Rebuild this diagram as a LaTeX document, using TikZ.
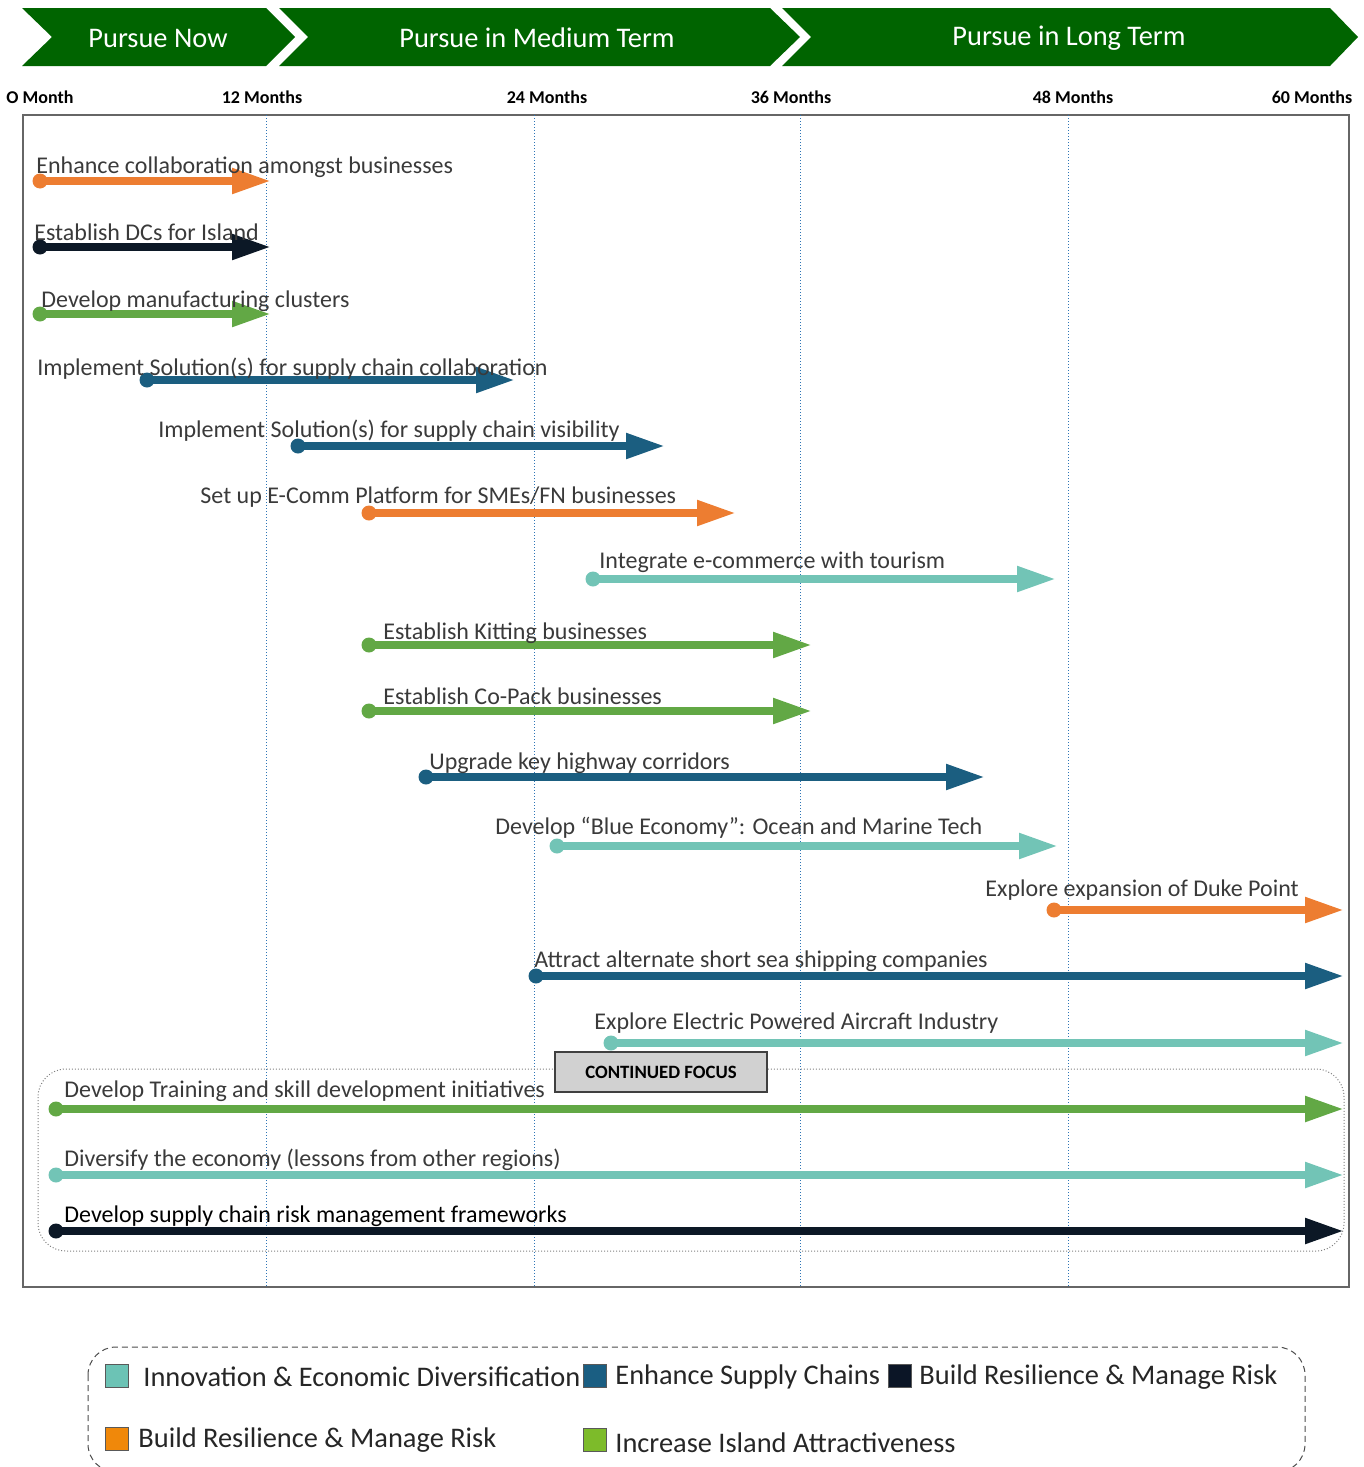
\documentclass[tikz,border=0pt]{standalone}
\usepackage{fontspec}
\setmainfont{Carlito}
\usetikzlibrary{arrows.meta}
\definecolor{cOrange}{HTML}{ED7D31}
\definecolor{cNavy}{HTML}{0C1826}
\definecolor{cGreen}{HTML}{62A845}
\definecolor{cBlue}{HTML}{1B5E80}
\definecolor{cTeal}{HTML}{72C4B6}
\definecolor{hdrGreen}{HTML}{006400}
\definecolor{gridBlue}{HTML}{2E75B6}
\definecolor{lblGray}{HTML}{3A3A3A}
\definecolor{lgTeal}{HTML}{6CC3B5}
\definecolor{lgBlue}{HTML}{1A5E82}
\definecolor{lgNavy}{HTML}{0B1526}
\definecolor{lgOrange}{HTML}{F0880A}
\definecolor{lgGreen}{HTML}{7DBB2A}
\newcommand{\task}[8]{%
  \node[sdot=#5] (s#1) at (#2,#4) {};
  \coordinate (e#1) at ({#3+3},#4);
  \draw[bar,#5] (s#1.center) -- (e#1);
  \node[lbl] (l#1) at #6 {#7#8};}
\begin{document}
\begin{tikzpicture}[x=0.5pt,y=-0.5pt,
  bar/.style={line width=4pt,-{Triangle[length=19.5pt,width=12pt]}},
  sdot/.style={circle,fill=#1,inner sep=0pt,minimum size=7.5pt},
  lbl/.style={anchor=base west,inner sep=0pt,yshift=-0.5pt,font=\fontsize{12pt}{14pt}\selectfont,text=lblGray},
  chev/.style={fill=hdrGreen,draw=none},
  hdr/.style={text=white,font=\fontsize{14.2pt}{16pt}\selectfont,inner sep=0pt},
  month/.style={font=\bfseries\fontsize{9pt}{11pt}\selectfont,inner sep=0pt},
  grid/.style={gridBlue,densely dotted,line width=0.5pt},
  swatch/.style={draw=gray!70!black,line width=0.5pt,minimum width=11.5pt,minimum height=11.5pt,inner sep=0pt},
  lg/.style={anchor=west,inner sep=0pt,font=\fontsize{14.2pt}{16pt}\selectfont,text=black!85}]
\useasboundingbox (0,0) rectangle (1364,1467);
\clip (0,0) rectangle (1364,1467);
% header chevrons
\path[chev] (22,8) -- (266,8) -- (295,37) -- (266,66) -- (22,66) -- (52,37) -- cycle;
\path[chev] (279,8) -- (770,8) -- (800,37) -- (770,66) -- (279,66) -- (308,37) -- cycle;
\path[chev] (782,8) -- (1330,8) -- (1358,37) -- (1330,66) -- (782,66) -- (811,37) -- cycle;
\node[hdr] (h1) at (158,38) {Pursue Now};
\node[hdr] (h2) at (537,38) {Pursue in Medium Term};
\node[hdr] (h3) at (1069,38) {Pursue in Long Term};
% months
\node[month] (m0) at (40,97) {O Month};
\node[month] (m12) at (262,97) {12 Months};
\node[month] (m24) at (547,97) {24 Months};
\node[month] (m36) at (791,97) {36 Months};
\node[month] (m48) at (1073,97) {48 Months};
\node[month] (m60) at (1312,97) {60 Months};
% frame
\draw[gray!80!black,line width=0.6pt] (23,115) rectangle (1349,1287);
\foreach \gx in {266,534,800,1068} \draw[grid] (\gx,115) -- (\gx,1287);
% continued focus box
\draw[gray,densely dotted,line width=0.5pt,rounded corners=14pt] (38,1069) rectangle (1344,1251);
\node[draw=black!75,line width=0.6pt,fill=black!18,minimum width=106pt,minimum height=20pt,inner sep=0pt,font=\bfseries\fontsize{9.4pt}{11pt}\selectfont] (cf) at (661,1072) {\raisebox{-1.5pt}{CONTINUED FOCUS}};
% arrows
\task{1}{40}{268}{181}{cOrange}{(36,172)}{}{Enhance collaboration amongst businesses}
\task{2}{40}{268}{247}{cNavy}{(34,239)}{}{Establish DCs for Island}
\task{3}{40}{268}{314}{cGreen}{(41,306)}{}{Develop manufacturing clusters}
\task{4}{147}{512}{380}{cBlue}{(37,374)}{}{Implement Solution(s) for supply chain collaboration}
\task{5}{298}{662}{446}{cBlue}{(158,436)}{}{Implement Solution(s) for supply chain visibility}
\task{6}{369}{733}{513}{cOrange}{(200,502)}{}{Set up E-Comm Platform for SMEs/FN businesses}
\task{7}{593}{1053}{579}{cTeal}{(599,567)}{}{Integrate e-commerce with tourism}
\task{8}{369}{809}{645}{cGreen}{(383,638)}{}{Establish Kitting businesses}
\task{9}{369}{809}{711}{cGreen}{(383,703)}{}{Establish Co-Pack businesses}
\task{10}{426}{982}{777}{cBlue}{(429,768)}{}{Upgrade key highway corridors}
\task{11}{557}{1055}{846}{cTeal}{(495,833)}{}{Develop “Blue Economy”: Ocean and Marine Tech}
\task{12}{1054}{1341}{910}{cOrange}{(985,895)}{}{Explore expansion of Duke Point}
\task{13}{536}{1341}{976}{cBlue}{(534,966)}{}{Attract alternate short sea shipping companies}
\task{14}{611}{1341}{1043}{cTeal}{(594,1028)}{}{Explore Electric Powered Aircraft Industry}
\task{15}{56}{1341}{1109}{cGreen}{(64,1096)}{}{Develop Training and skill development initiatives}
\task{16}{56}{1341}{1175}{cTeal}{(64,1165)}{}{Diversify the economy (lessons from other regions)}
\task{17}{56}{1341}{1231}{cNavy}{(64,1221)}{\color{black}}{Develop supply chain risk management frameworks}
% legend
\draw[black!70,densely dashed,line width=0.5pt,rounded corners=14pt] (88,1347) rectangle (1305,1472);
\node[swatch,fill=lgTeal] (k1) at (116.5,1375.5) {};
\node[lg] (t1) at (143,1377) {Innovation \& Economic Diversification};
\node[swatch,fill=lgBlue] (k2) at (594.5,1375.5) {};
\node[lg] (t2) at (615,1377) {Enhance Supply Chains};
\node[swatch,fill=lgNavy] (k3) at (899.5,1375.5) {};
\node[lg] (t3) at (919,1377) {Build Resilience \& Manage Risk};
\node[swatch,fill=lgOrange] (k4) at (116.5,1438.5) {};
\node[lg] (t4) at (138,1440) {Build Resilience \& Manage Risk};
\node[swatch,fill=lgGreen] (k5) at (594.5,1440) {};
\node[lg] (t5) at (615,1443) {Increase Island Attractiveness};
\end{tikzpicture}
\end{document}
